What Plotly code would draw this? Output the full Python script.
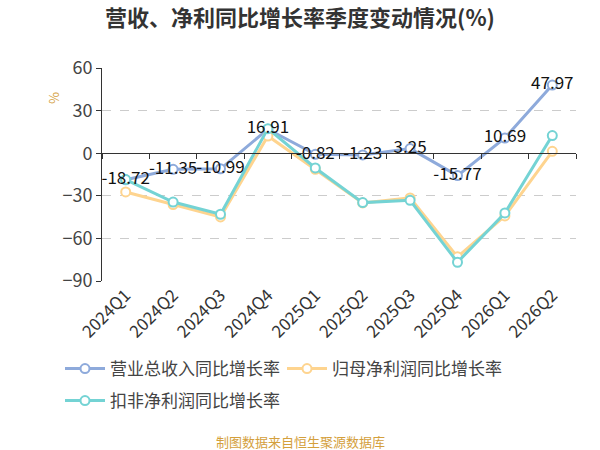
import plotly.graph_objects as go

quarters = ["2024Q1", "2024Q2", "2024Q3", "2024Q4", "2025Q1", "2025Q2", "2025Q3", "2025Q4", "2026Q1", "2026Q2"]
revenue_yoy = [-18.72, -11.35, -10.99, 16.91, -0.82, -1.23, 3.25, -15.77, 10.69, 47.97]
netprofit_yoy = [-27.3, -36.2, -44.9, 12.1, -11.3, -35.0, -31.5, -73.0, -44.2, 1.3]
deducted_yoy = [-18.6, -34.4, -43.0, 17.3, -10.4, -34.8, -33.2, -76.8, -42.1, 12.4]

names = ["营业总收入同比增长率", "归母净利润同比增长率", "扣非净利润同比增长率"]
colors = ["#8eaadb", "#fed48f", "#74d3d4"]
legend_ids = ["legend", "legend", "legend2"]
series = [revenue_yoy, netprofit_yoy, deducted_yoy]

font_family = "Noto Sans CJK SC, Noto Sans, sans-serif"

W, H = 600, 450
ML, MR, MT, MB = 102, 24, 68, 169
PW, PH = W - ML - MR, H - MT - MB


def px_to_paper(xp, yp):
    return (xp - ML) / PW, (H - MB - yp) / PH


fig = go.Figure()
for name, color, vals, lg in zip(names, colors, series, legend_ids):
    fig.add_trace(go.Scatter(
        x=quarters, y=vals, name=name, mode="lines+markers",
        line=dict(color=color, width=3),
        marker=dict(symbol="circle", size=9, color="white",
                    line=dict(color=color, width=2)),
        hoverinfo="skip", legend=lg,
    ))

# value labels for revenue series (on top)
fig.add_trace(go.Scatter(
    x=quarters, y=revenue_yoy, mode="text",
    text=[f"{v:.2f}" for v in revenue_yoy],
    textposition="middle center",
    textfont=dict(size=17, color="#111111", family=font_family),
    showlegend=False, hoverinfo="skip",
))

# invisible trace for zero-line axis with ticks
fig.add_trace(go.Scatter(
    x=quarters, y=[0] * len(quarters), xaxis="x2", mode="lines",
    line=dict(width=0), showlegend=False, hoverinfo="skip", opacity=0,
))

legend_common = dict(
    orientation="h", xref="container", yref="container",
    xanchor="left", yanchor="middle",
    font=dict(size=17, color="#444444", family=font_family),
    itemwidth=40, bgcolor="rgba(0,0,0,0)",
)

fig.update_layout(
    width=W, height=H,
    margin=dict(l=ML, r=MR, t=MT, b=MB),
    paper_bgcolor="white", plot_bgcolor="white",
    font=dict(family=font_family, color="#333333"),
    title=dict(text="<b>营收、净利同比增长率季度变动情况(%)</b>",
               x=0.5, xref="container", y=1 - 18 / H, yref="container",
               xanchor="center", yanchor="middle",
               font=dict(size=22, color="#333333", family=font_family)),
    xaxis=dict(
        type="category", categoryorder="array", categoryarray=quarters,
        range=[-0.5, len(quarters) - 0.5],
        showgrid=False, showline=False, zeroline=False, ticks="",
        tickangle=-45, tickfont=dict(size=17, color="#333333"),
        automargin=False,
    ),
    xaxis2=dict(
        type="category", categoryorder="array", categoryarray=quarters,
        range=[-0.5, len(quarters) - 0.5],
        overlaying="x", anchor="free", position=0.6, side="bottom",
        showgrid=False, showline=True, linecolor="#333333", linewidth=1,
        ticks="outside", tickson="boundaries", ticklen=5, tickcolor="#333333",
        showticklabels=False, zeroline=False,
    ),
    yaxis=dict(
        range=[-90, 60], tickvals=[-90, -60, -30, 0, 30, 60],
        showgrid=True, gridcolor="#cccccc", griddash="dash", gridwidth=1,
        zeroline=False, showline=True, linecolor="#333333", linewidth=1,
        ticks="outside", ticklen=5, tickcolor="#333333",
        tickfont=dict(size=18, color="#444444"), automargin=False,
    ),
    legend=dict(x=60 / W, y=1 - 369 / H, entrywidth=167, **legend_common),
    legend2=dict(x=60 / W, y=1 - 401 / H, **legend_common),
    showlegend=True,
)

ax, ay = px_to_paper(53, 98)
fig.add_annotation(text="%", xref="paper", yref="paper",
                   x=ax, y=ay, xanchor="center", yanchor="middle",
                   showarrow=False, textangle=-90,
                   font=dict(size=13, color="#d4a03c"))
fx, fy = px_to_paper(300, 441)
fig.add_annotation(text="制图数据来自恒生聚源数据库", xref="paper", yref="paper",
                   x=fx, y=fy, xanchor="center", yanchor="middle",
                   showarrow=False,
                   font=dict(size=13, color="#d4a03c"))

fig.write_html("out.html", config={"displayModeBar": False},
               post_script="document.body.style.margin='0';")
